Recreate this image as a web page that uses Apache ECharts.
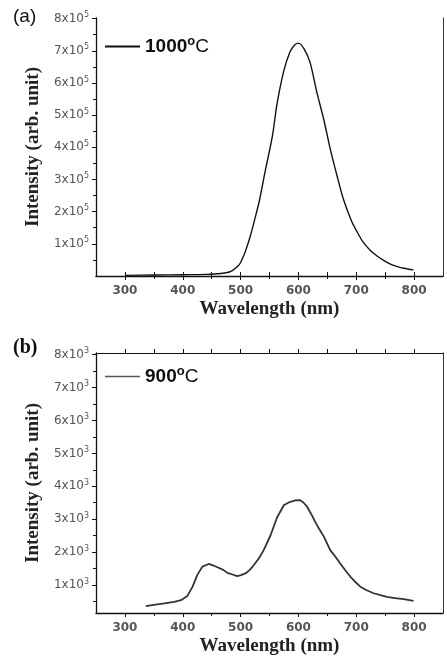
<!DOCTYPE html>
<html><head><meta charset="utf-8">
<script src="https://cdn.jsdelivr.net/npm/echarts@6/dist/echarts.min.js"></script>
<style>html,body{margin:0;padding:0;background:#fff}#c{width:447px;height:657px}</style>
</head><body><div id="c"></div>
<script>
// ---- data ----
const xTickLabels = [300, 400, 500, 600, 700, 800];
const xMinorTicks = [350, 450, 550, 650, 750];
const yTickMajor = [1, 2, 3, 4, 5, 6, 7, 8];
const yTickMinor = [0.5, 1.5, 2.5, 3.5, 4.5, 5.5, 6.5, 7.5];

// (a) 1000 °C, intensity in units of 1e5
const wlA = [300,350,400,440,460,475,485,495,500,508,517,525,532,543,555,563,575,585,592,598,601,610,620,632,644,655,667,678,692,700,712,724,736,748,759,770,782,799];
const intA = [0.02,0.03,0.04,0.05,0.07,0.10,0.16,0.30,0.42,0.75,1.25,1.80,2.30,3.30,4.35,5.35,6.40,6.95,7.15,7.23,7.23,7.05,6.65,5.70,4.85,3.95,3.10,2.38,1.70,1.42,1.05,0.80,0.62,0.48,0.37,0.30,0.24,0.19];

// (b) 900 °C, intensity in units of 1e3
const wlB = [336,350,368,385,397,408,417,425,434,445,452,460,470,477,486,494,501,509,516,523,532,540,552,563,575,586,595,603,609,615,622,629,636,644,655,664,672,681,690,698,707,718,730,742,753,767,782,799];
const intB = [0.36,0.40,0.44,0.49,0.54,0.67,0.95,1.30,1.56,1.64,1.60,1.54,1.46,1.37,1.32,1.27,1.30,1.36,1.46,1.61,1.82,2.06,2.52,3.05,3.43,3.53,3.57,3.58,3.50,3.38,3.16,2.92,2.70,2.47,2.06,1.86,1.66,1.45,1.25,1.10,0.95,0.84,0.75,0.69,0.64,0.60,0.57,0.52];

const legendA = '1000';
const legendB = '900';
const expA = 5, expB = 3;
const scaleA = 1e5, scaleB = 1e3;

// ---- chart ----
const chart = echarts.init(document.getElementById('c'));
const tickFont = 'DejaVu Sans';
const serif = 'Liberation Serif';

function yLabelFmt(exp, scale) {
  return v => {
    const n = Math.round(v / scale);
    return n + 'x10{sup|' + exp + '}';
  };
}
const supRich = { sup: { fontSize: 8, verticalAlign: 'top', padding: [0, 0, 7, 0], color: '#555', fontFamily: tickFont } };

function axesFor(gi, xmin, xmax, ymin, ymax, scale, exp) {
  const xs = [
    { // bottom main
      type: 'value', gridIndex: gi, position: 'bottom', min: xmin, max: xmax,
      splitLine: { show: false },
      axisLine: { lineStyle: { color: '#111', width: 1.3 } },
      axisTick: { customValues: xTickLabels, length: 4, lineStyle: { color: '#111' } },
      axisLabel: { customValues: xTickLabels, color: '#555', fontFamily: tickFont, fontWeight: 'bold', fontSize: 12, margin: 9 },
      name: 'Wavelength (nm)', nameLocation: 'middle', nameGap: 24,
      nameTextStyle: { fontFamily: serif, fontWeight: 'bold', fontSize: 19, color: '#222' }
    },
    { // bottom minor ticks
      type: 'value', gridIndex: gi, position: 'bottom', min: xmin, max: xmax,
      splitLine: { show: false }, axisLine: { show: false }, axisLabel: { show: false },
      axisTick: { customValues: xMinorTicks, length: 3, lineStyle: { color: '#111' } }
    },
    { // top
      type: 'value', gridIndex: gi, position: 'top', min: xmin, max: xmax,
      splitLine: { show: false }, axisLabel: { show: false },
      axisLine: { lineStyle: { color: '#111', width: 1.1 } },
      axisTick: { customValues: xTickLabels.concat(xMinorTicks), length: 4, lineStyle: { color: '#111' } }
    }
  ];
  const ys = [
    { // left main
      type: 'value', gridIndex: gi, position: 'left', min: ymin, max: ymax,
      splitLine: { show: false },
      axisLine: { lineStyle: { color: '#111', width: 1.3 } },
      axisTick: { customValues: yTickMajor.map(v => v * scale), length: 4, lineStyle: { color: '#111' } },
      axisLabel: { customValues: yTickMajor.map(v => v * scale), formatter: yLabelFmt(exp, scale),
        color: '#555', fontFamily: tickFont, fontSize: 12, margin: 7, rich: supRich },
      name: 'Intensity (arb. unit)', nameLocation: 'middle', nameGap: 49,
      nameTextStyle: { fontFamily: serif, fontWeight: 'bold', fontSize: 19, color: '#222' }
    },
    { // left minor
      type: 'value', gridIndex: gi, position: 'left', min: ymin, max: ymax,
      splitLine: { show: false }, axisLine: { show: false }, axisLabel: { show: false },
      axisTick: { customValues: yTickMinor.map(v => v * scale), length: 3, lineStyle: { color: '#111' } }
    },
    { // right
      type: 'value', gridIndex: gi, position: 'right', min: ymin, max: ymax,
      splitLine: { show: false }, axisLabel: { show: false },
      axisLine: { lineStyle: { color: '#333', width: 1 } },
      axisTick: { show: false }
    }
  ];
  return { xs, ys };
}

const a = axesFor(0, 250, 850, 0, 8.02 * scaleA, scaleA, expA);
const b = axesFor(1, 250, 850, 0.15 * scaleB, 8.05 * scaleB, scaleB, expB);

const legendRich = {
  n: { fontSize: 19, fontWeight: 'bold', fontFamily: 'Liberation Sans', color: '#111' },
  o: { fontSize: 13, fontWeight: 'bold', fontFamily: 'Liberation Sans', color: '#111', verticalAlign: 'top', padding: [0, 0, 10, 0] },
  c: { fontSize: 19, fontFamily: 'Liberation Sans', color: '#111' }
};

chart.setOption({
  animation: false,
  backgroundColor: '#fff',
  title: [
    { text: '(a)', left: 8, top: 2, textStyle: { fontFamily: 'Liberation Sans', fontWeight: 'normal', fontSize: 19, color: '#111' } },
    { text: '(b)', left: 8, top: 333, textStyle: { fontFamily: serif, fontWeight: 'bold', fontSize: 20, color: '#111' } }
  ],
  grid: [
    { left: 96, top: 18, width: 347, height: 258 },
    { left: 96, top: 353, width: 347, height: 260 }
  ],
  xAxis: a.xs.concat(b.xs),
  yAxis: a.ys.concat(b.ys),
  legend: [
    { left: 100, top: 30, itemWidth: 35, itemHeight: 2, itemGap: 0, icon: 'rect', data: ['A'],
      formatter: () => '{n|' + legendA + '}{o|o}{c|C}', textStyle: { rich: legendRich }, selectedMode: false },
    { left: 100, top: 360, itemWidth: 35, itemHeight: 1.5, itemGap: 0, icon: 'rect', data: ['B'],
      formatter: () => '{n|' + legendB + '}{o|o}{c|C}', textStyle: { rich: legendRich }, selectedMode: false }
  ],
  series: [
    { name: 'A', type: 'line', xAxisIndex: 0, yAxisIndex: 0, showSymbol: false, smooth: 0.3,
      data: wlA.map((w, i) => [w, intA[i] * scaleA]), lineStyle: { color: '#111', width: 1.4 }, itemStyle: { color: '#111' } },
    { name: 'B', type: 'line', xAxisIndex: 3, yAxisIndex: 3, showSymbol: false,
      data: wlB.map((w, i) => [w, intB[i] * scaleB]), lineStyle: { color: '#333', width: 1.8 }, itemStyle: { color: '#555' } }
  ]
});
</script></body></html>
